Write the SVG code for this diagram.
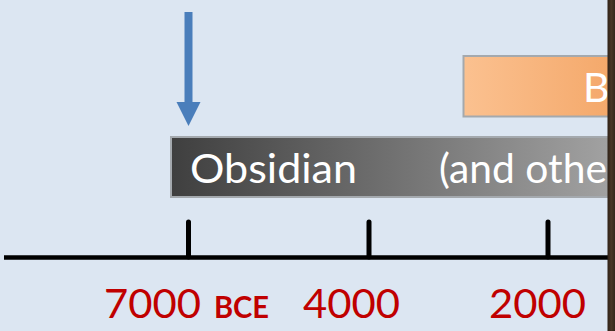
<svg xmlns="http://www.w3.org/2000/svg" width="615" height="331" viewBox="0 0 615 331">
  <defs>
    <linearGradient id="gDark" x1="0" y1="0" x2="1" y2="0">
      <stop offset="0" stop-color="#3f3f3f"/>
      <stop offset="1" stop-color="#a3a3a3"/>
    </linearGradient>
    <linearGradient id="gOrange" x1="0" y1="0" x2="1" y2="0">
      <stop offset="0" stop-color="#fbc190"/>
      <stop offset="1" stop-color="#f4a86a"/>
    </linearGradient>
    <linearGradient id="gWood" x1="0" y1="0" x2="1" y2="0">
      <stop offset="0" stop-color="#2e2117"/>
      <stop offset="0.5" stop-color="#4a3626"/>
      <stop offset="1" stop-color="#35271b"/>
    </linearGradient>
  </defs>
  <style>
    .bar { stroke: #a4a9ae; stroke-width: 2; }
    .lbl { font-family: Lato, "Liberation Sans", sans-serif; fill: #ffffff; font-size: 41px; }
    .year { font-family: Lato, "Liberation Sans", sans-serif; fill: #c00000; font-size: 40px; }
    .era { font-family: Lato, "Liberation Sans", sans-serif; fill: #c00000; font-size: 30px; font-weight: bold; }
    .tick { stroke: #000; stroke-width: 5; stroke-linecap: round; }
  </style>
  <rect x="0" y="0" width="615" height="331" fill="#dce6f2"/>

  <g id="bronze">
    <rect class="bar" x="463.5" y="56" width="150" height="60.5" fill="url(#gOrange)"/>
    <text class="lbl" x="583" y="102">B</text>
  </g>

  <g id="obsidian">
    <rect class="bar" x="171" y="137" width="445" height="60" fill="url(#gDark)"/>
    <text class="lbl" x="190" y="182.5" textLength="167" lengthAdjust="spacingAndGlyphs">Obsidian</text>
    <text class="lbl" x="439" y="182.5" textLength="168" lengthAdjust="spacingAndGlyphs">(and othe</text>
  </g>

  <g id="connectors">
    <rect x="184.5" y="12" width="8" height="91" fill="#4a7ebb"/>
    <polygon points="176.5,102 200.5,102 188.5,126" fill="#4a7ebb"/>
  </g>

  <g id="timeline">
    <line x1="4" y1="257.5" x2="610" y2="257.5" stroke="#000" stroke-width="4.5"/>
    <line class="tick" x1="188.5" y1="222" x2="188.5" y2="257"/>
    <line class="tick" x1="369" y1="222" x2="369" y2="257"/>
    <line class="tick" x1="548" y1="222" x2="548" y2="257"/>
  </g>

  <g id="labels">
    <text class="year" x="104" y="318" textLength="97" lengthAdjust="spacingAndGlyphs">7000</text>
    <text class="era" x="214" y="318" textLength="55" lengthAdjust="spacingAndGlyphs">BCE</text>
    <text class="year" x="303" y="318" textLength="97" lengthAdjust="spacingAndGlyphs">4000</text>
    <text class="year" x="489" y="318" textLength="97" lengthAdjust="spacingAndGlyphs">2000</text>
  </g>

  <rect x="607.5" y="0" width="7.5" height="331" fill="url(#gWood)"/>
</svg>
